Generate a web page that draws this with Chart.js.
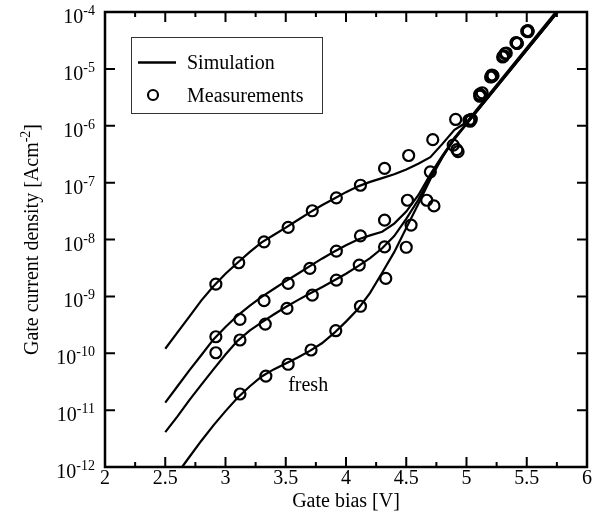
<!DOCTYPE html>
<html>
<head>
<meta charset="utf-8">
<script src="https://cdn.jsdelivr.net/npm/chart.js@4/dist/chart.umd.min.js"></script>
<style>
  html, body { margin: 0; padding: 0; background: #fff; }
  canvas { display: block; }
</style>
</head>
<body>
<canvas id="gateChart" width="612" height="532"></canvas>
<script>
// simulation curves (gate bias in V, current density in A/cm^2)
const simBias1 = [2.5, 2.6, 2.7, 2.8, 2.9, 3.0, 3.1, 3.2, 3.3, 3.4, 3.5, 3.6, 3.7, 3.8, 3.9, 4.0, 4.1, 4.2, 4.3, 4.4, 4.5, 4.6, 4.7, 4.8, 4.9, 5.0, 5.76];
const simCurrent1 = [1.2e-10, 2.3e-10, 4.4e-10, 8.5e-10, 1.5e-9, 2.5e-9, 3.9e-9, 6.0e-9, 8.9e-9, 1.2e-8, 1.62e-8, 2.2e-8, 3.0e-8, 4.0e-8, 5.2e-8, 6.8e-8, 8.6e-8, 1.03e-7, 1.2e-7, 1.4e-7, 1.7e-7, 2.15e-7, 2.8e-7, 4.8e-7, 8.5e-7, 1.15e-6, 1.12e-4];

const simBias2 = [2.5, 2.6, 2.7, 2.8, 2.9, 3.0, 3.1, 3.2, 3.3, 3.4, 3.5, 3.6, 3.7, 3.8, 3.9, 4.0, 4.1, 4.2, 4.3, 4.4, 4.5, 4.6, 4.7, 4.8, 4.9, 5.0, 5.76];
const simCurrent2 = [1.35e-11, 2.6e-11, 5.0e-11, 9.3e-11, 1.75e-10, 2.9e-10, 4.6e-10, 6.8e-10, 9.8e-10, 1.35e-9, 1.85e-9, 2.5e-9, 3.4e-9, 4.6e-9, 6.1e-9, 7.9e-9, 1.0e-8, 1.18e-8, 1.37e-8, 1.9e-8, 3.1e-8, 6.0e-8, 1.4e-7, 3.0e-7, 6.0e-7, 1.07e-6, 1.02e-4];

const simBias3 = [2.5, 2.6, 2.7, 2.8, 2.9, 3.0, 3.1, 3.2, 3.3, 3.4, 3.5, 3.6, 3.7, 3.8, 3.9, 4.0, 4.1, 4.2, 4.3, 4.4, 4.5, 4.6, 4.7, 4.8, 4.9, 5.0, 5.76];
const simCurrent3 = [4.1e-12, 7.7e-12, 1.5e-11, 2.8e-11, 5.2e-11, 9.5e-11, 1.65e-10, 2.5e-10, 3.5e-10, 4.8e-10, 6.5e-10, 8.6e-10, 1.12e-9, 1.45e-9, 1.9e-9, 2.5e-9, 3.4e-9, 4.7e-9, 7.0e-9, 1.15e-8, 2.3e-8, 5.0e-8, 1.25e-7, 2.8e-7, 5.8e-7, 1.07e-6, 1.02e-4];

const simBias4 = [2.64, 2.7, 2.8, 2.9, 3.0, 3.1, 3.2, 3.3, 3.4, 3.5, 3.6, 3.7, 3.8, 3.9, 4.0, 4.1, 4.2, 4.3, 4.4, 4.5, 4.6, 4.7, 4.8, 4.9, 5.0, 5.76];
const simCurrent4 = [1.0e-12, 1.5e-12, 2.9e-12, 5.4e-12, 9.6e-12, 1.65e-11, 2.6e-11, 3.9e-11, 5.2e-11, 6.6e-11, 8.4e-11, 1.1e-10, 1.5e-10, 2.25e-10, 3.6e-10, 6.0e-10, 1.15e-9, 2.6e-9, 6.0e-9, 1.6e-8, 4.2e-8, 1.15e-7, 2.8e-7, 6.2e-7, 1.1e-6, 1.02e-4];

// measurements
const measBias1 = [2.92, 3.11, 3.32, 3.52, 3.72, 3.92, 4.12, 4.32, 4.52, 4.72, 4.91, 5.03, 5.11, 5.21, 5.32, 5.42, 5.51];
const measCurrent1 = [1.64e-9, 3.9e-9, 9.1e-9, 1.63e-8, 3.2e-8, 5.4e-8, 9.0e-8, 1.78e-7, 3.0e-7, 5.7e-7, 1.29e-6, 1.26e-6, 3.6e-6, 7.8e-6, 1.85e-5, 2.85e-5, 4.7e-5];

const measBias2 = [2.92, 3.12, 3.32, 3.52, 3.70, 3.92, 4.12, 4.32, 4.51, 4.70, 4.89, 5.03, 5.11, 5.21, 5.30, 5.42, 5.51];
const measCurrent2 = [1.95e-10, 3.94e-10, 8.4e-10, 1.69e-9, 3.1e-9, 6.25e-9, 1.16e-8, 2.19e-8, 4.9e-8, 1.55e-7, 4.56e-7, 1.2e-6, 3.3e-6, 7.3e-6, 1.62e-5, 2.8e-5, 4.5e-5];

const measBias3 = [2.92, 3.12, 3.33, 3.51, 3.72, 3.92, 4.11, 4.32, 4.54, 4.67, 4.93, 5.02, 5.13, 5.22, 5.33, 5.41, 5.50];
const measCurrent3 = [1.02e-10, 1.71e-10, 3.26e-10, 6.15e-10, 1.05e-9, 1.93e-9, 3.55e-9, 7.4e-9, 1.79e-8, 4.9e-8, 3.5e-7, 1.25e-6, 3.8e-6, 7.6e-6, 1.9e-5, 2.9e-5, 4.6e-5];

const measBias4 = [3.12, 3.335, 3.52, 3.71, 3.915, 4.12, 4.33, 4.50, 4.73, 4.92, 5.04, 5.12, 5.20, 5.31, 5.42, 5.51];
const measCurrent4 = [1.92e-11, 3.97e-11, 6.4e-11, 1.14e-10, 2.49e-10, 6.7e-10, 2.07e-9, 7.3e-9, 3.9e-8, 3.8e-7, 1.3e-6, 3.4e-6, 7.2e-6, 1.7e-5, 2.8e-5, 4.6e-5];

// axis ticks
const xMajorTicks = [2, 2.5, 3, 3.5, 4, 4.5, 5, 5.5, 6];
const xMinorTicks = [2.25, 2.75, 3.25, 3.75, 4.25, 4.75, 5.25, 5.75];
const yTickValues = [1e-12, 1e-11, 1e-10, 1e-9, 1e-8, 1e-7, 1e-6, 1e-5, 1e-4];
const yTickExponents = ['-12', '-11', '-10', '-9', '-8', '-7', '-6', '-5', '-4'];

const SERIF = '"Liberation Serif", "Times New Roman", serif';

const toPoints = (xs, ys) => xs.map((x, i) => ({ x: x, y: ys[i] }));

function simSet(xs, ys) {
  return {
    data: toPoints(xs, ys),
    showLine: true,
    borderColor: '#000',
    borderWidth: 2.2,
    pointRadius: 0,
    tension: 0
  };
}

function measSet(xs, ys) {
  return {
    data: toPoints(xs, ys),
    showLine: false,
    pointStyle: 'circle',
    pointRadius: 5.5,
    pointBorderWidth: 2.2,
    pointBorderColor: '#000',
    pointBackgroundColor: 'rgba(0,0,0,0)'
  };
}

// frame, inward ticks, labels, legend
const decorPlugin = {
  id: 'decor',
  afterDatasetsDraw(chart) {
    const { ctx, chartArea: a, scales } = chart;
    const xs = scales.x, ys = scales.y;
    ctx.save();
    ctx.strokeStyle = '#000';
    ctx.fillStyle = '#000';

    // ticks
    ctx.lineWidth = 2;
    ctx.beginPath();
    xMajorTicks.forEach(v => {
      const px = xs.getPixelForValue(v);
      ctx.moveTo(px, a.bottom); ctx.lineTo(px, a.bottom - 10);
      ctx.moveTo(px, a.top); ctx.lineTo(px, a.top + 10);
    });
    xMinorTicks.forEach(v => {
      const px = xs.getPixelForValue(v);
      ctx.moveTo(px, a.bottom); ctx.lineTo(px, a.bottom - 5);
      ctx.moveTo(px, a.top); ctx.lineTo(px, a.top + 5);
    });
    yTickValues.forEach(v => {
      const py = ys.getPixelForValue(v);
      ctx.moveTo(a.left, py); ctx.lineTo(a.left + 10, py);
      ctx.moveTo(a.right, py); ctx.lineTo(a.right - 10, py);
    });
    ctx.stroke();

    // frame
    ctx.lineWidth = 2.5;
    ctx.strokeRect(a.left, a.top, a.right - a.left, a.bottom - a.top);

    // x tick labels
    ctx.font = '20px ' + SERIF;
    ctx.textAlign = 'center';
    ctx.textBaseline = 'alphabetic';
    xMajorTicks.forEach(v => {
      ctx.fillText(String(v), xs.getPixelForValue(v), a.bottom + 17);
    });

    // y tick labels 10^n
    ctx.textAlign = 'left';
    yTickValues.forEach((v, i) => {
      const py = ys.getPixelForValue(v);
      ctx.font = '14px ' + SERIF;
      const we = ctx.measureText(yTickExponents[i]).width;
      ctx.font = '20px ' + SERIF;
      const wb = ctx.measureText('10').width;
      const right = a.left - 10;
      ctx.fillText('10', right - we - wb, py + 11);
      ctx.font = '14px ' + SERIF;
      ctx.fillText(yTickExponents[i], right - we, py + 3);
    });

    // x title
    ctx.font = '20px ' + SERIF;
    ctx.textAlign = 'center';
    ctx.fillText('Gate bias [V]', (a.left + a.right) / 2, a.bottom + 40);

    // y title (rotated, with superscript)
    ctx.save();
    ctx.translate(38, (a.top + a.bottom) / 2);
    ctx.rotate(-Math.PI / 2);
    ctx.textAlign = 'left';
    const t1 = 'Gate current density [Acm', t2 = '-2', t3 = ']';
    ctx.font = '20px ' + SERIF;
    const w1 = ctx.measureText(t1).width, w3 = ctx.measureText(t3).width;
    ctx.font = '14px ' + SERIF;
    const w2 = ctx.measureText(t2).width;
    let sx = -(w1 + w2 + w3) / 2;
    ctx.font = '20px ' + SERIF;
    ctx.fillText(t1, sx, 0);
    ctx.font = '14px ' + SERIF;
    ctx.fillText(t2, sx + w1, -8);
    ctx.font = '20px ' + SERIF;
    ctx.fillText(t3, sx + w1 + w2, 0);
    ctx.restore();

    // annotation
    ctx.font = '20px ' + SERIF;
    ctx.textAlign = 'left';
    ctx.fillText('fresh', xs.getPixelForValue(3.52), ys.getPixelForValue(2.2e-11));

    // legend box
    const lx = 131.5, ly = 37.5, lw = 191, lh = 76;
    ctx.fillStyle = '#fff';
    ctx.fillRect(lx, ly, lw, lh);
    ctx.lineWidth = 1;
    ctx.strokeStyle = '#333';
    ctx.strokeRect(lx, ly, lw, lh);
    ctx.strokeStyle = '#000';
    ctx.fillStyle = '#000';
    ctx.lineWidth = 2.5;
    ctx.beginPath();
    ctx.moveTo(138, 62.5); ctx.lineTo(176, 62.5);
    ctx.stroke();
    ctx.lineWidth = 2.2;
    ctx.beginPath();
    ctx.arc(153, 95, 5, 0, Math.PI * 2);
    ctx.stroke();
    ctx.font = '20px ' + SERIF;
    ctx.fillText('Simulation', 187, 69);
    ctx.fillText('Measurements', 187, 102);

    ctx.restore();
  }
};

new Chart(document.getElementById('gateChart'), {
  type: 'scatter',
  data: {
    datasets: [
      simSet(simBias1, simCurrent1),
      simSet(simBias2, simCurrent2),
      simSet(simBias3, simCurrent3),
      simSet(simBias4, simCurrent4),
      measSet(measBias1, measCurrent1),
      measSet(measBias2, measCurrent2),
      measSet(measBias3, measCurrent3),
      measSet(measBias4, measCurrent4)
    ]
  },
  options: {
    responsive: false,
    animation: false,
    layout: { padding: { top: 12, right: 25, left: 0, bottom: 0 } },
    plugins: { legend: { display: false }, tooltip: { enabled: false } },
    scales: {
      x: {
        type: 'linear', min: 2, max: 6,
        ticks: { display: false },
        grid: { display: false },
        border: { display: false },
        afterFit: s => { s.height = 65; }
      },
      y: {
        type: 'logarithmic', min: 1e-12, max: 1e-4,
        ticks: { display: false },
        grid: { display: false },
        border: { display: false },
        afterFit: s => { s.width = 105; }
      }
    }
  },
  plugins: [decorPlugin]
});
</script>
</body>
</html>
